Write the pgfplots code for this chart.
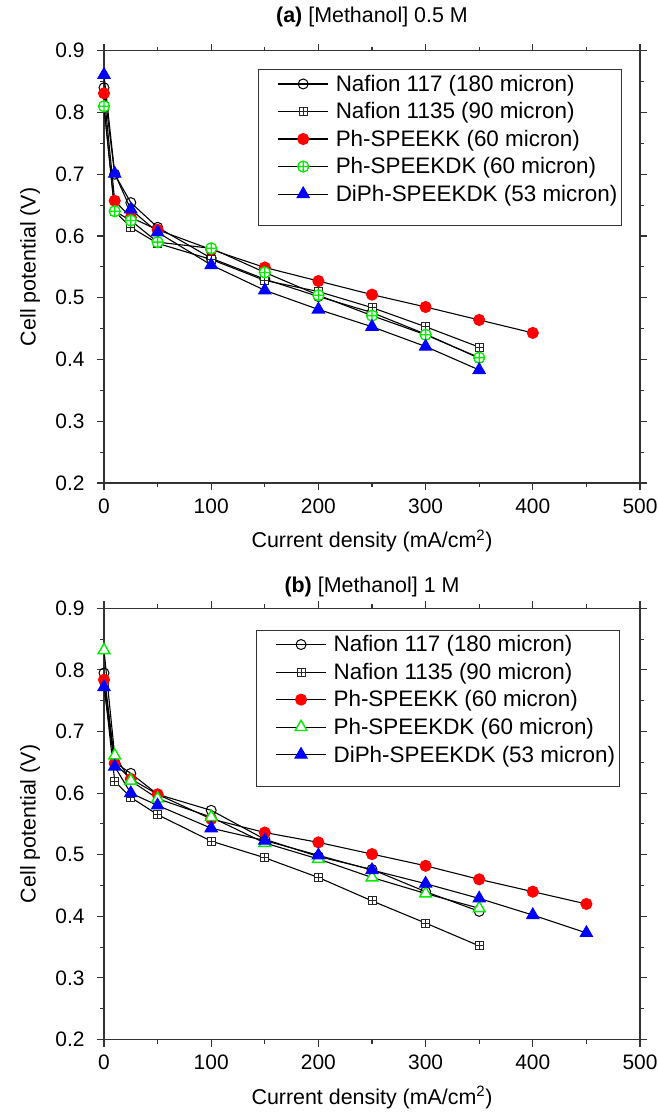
\documentclass[border=0pt]{standalone}
\usepackage{fontspec}
\setmainfont{Liberation Sans}
\usepackage{pgfplots}
\pgfplotsset{compat=1.18}
\usetikzlibrary{plotmarks}
\definecolor{mgreen}{RGB}{0,235,0}
\definecolor{mred}{RGB}{255,0,0}
\definecolor{mblue}{RGB}{0,0,255}
\pgfdeclareplotmark{boxplus}{%
  \pgfpathrectangle{\pgfpoint{-\pgfplotmarksize}{-\pgfplotmarksize}}{\pgfpoint{2\pgfplotmarksize}{2\pgfplotmarksize}}%
  \pgfusepathqfillstroke
  \pgfpathmoveto{\pgfpoint{-\pgfplotmarksize}{0pt}}\pgfpathlineto{\pgfpoint{\pgfplotmarksize}{0pt}}%
  \pgfpathmoveto{\pgfpoint{0pt}{-\pgfplotmarksize}}\pgfpathlineto{\pgfpoint{0pt}{\pgfplotmarksize}}%
  \pgfusepathqstroke}
\pgfplotsset{
  myaxis/.style={
    scale only axis, width=536bp,
    xmin=0, xmax=500, ymin=0.2, ymax=0.9,
    xtick={0,100,...,500}, ytick={0.2,0.3,...,0.9},
    minor x tick num=1, minor y tick num=1,
    tick align=outside, major tick length=7bp, minor tick length=4bp,
    axis line style={line width=1.3bp, black!80},
    every tick/.style={line width=1.1bp, black!80},
    tick label style={font=\fontsize{21}{24}\selectfont},
    xticklabel style={yshift=-5bp},
    yticklabel style={xshift=-9bp},
    /pgf/number format/assume math mode=true,
    yticklabel style={/pgf/number format/.cd, fixed, fixed zerofill, precision=1},
    label style={font=\fontsize{21.5}{25}\selectfont},
    xlabel={Current density (mA/cm\textsuperscript{2})},
    ylabel={Cell potential (V)},
    xlabel style={at={(axis description cs:0.5,0)}, anchor=center, yshift=-58bp},
    ylabel style={at={(axis description cs:-0.138,0.5)}, anchor=center},
    legend cell align=left,
    legend image code/.code={%
      \path (-17bp,0bp) (55bp,0bp);
      \draw[mark repeat=2,mark phase=2,##1] plot coordinates {(0bp,0bp) (25bp,0bp) (50bp,0bp)};},
    legend style={font=\fontsize{22.5}{26}\selectfont, draw=black!80, line width=1bp,
      inner xsep=2bp, inner ysep=3.3bp, row sep=5.8bp,
      nodes={inner xsep=2bp, inner ysep=2bp}},
  },
  ln/.style={black, line width=1.1bp},
  s117/.style={ln, mark=o, mark size=5bp, mark options={draw=black, fill=white, line width=1bp}},
  s1135/.style={ln, mark=boxplus, mark size=4bp, mark options={draw=black!85, fill=white, line width=0.9bp}},
  sred/.style={ln, mark=*, mark size=5.5bp, mark options={draw=mred, fill=mred}},
  sgreenA/.style={ln, mark=oplus*, mark size=5.5bp, mark options={draw=mgreen, fill=white, line width=1.3bp}},
  sgreenB/.style={ln, mark=triangle*, mark size=6.8bp, mark options={draw=mgreen, fill=white, line width=1.4bp}},
  sblue/.style={ln, mark=triangle*, mark size=7bp, mark options={draw=mblue, fill=mblue}},
}
\begin{document}
\begin{tikzpicture}
\path[use as bounding box] (0,0) rectangle (658bp,1116bp);
% ---------------- (a) ----------------
\begin{axis}[myaxis, at={(104bp,633bp)}, anchor=south west, height=432.3bp,
  legend style={at={(0.966,0.957)}, anchor=north east}]
\addplot[s117] coordinates {(0,0.84) (10,0.70) (25,0.654) (50,0.614) (100,0.564) (150,0.530) (200,0.502) (250,0.476) (300,0.441) (350,0.402)};
\addlegendentry{Nafion 117 (180 micron)}
\addplot[s1135] coordinates {(0,0.81) (10,0.64) (25,0.614) (50,0.588) (100,0.562) (150,0.528) (200,0.510) (250,0.484) (300,0.453) (350,0.420)};
\addlegendentry{Nafion 1135 (90 micron)}
\addplot[sred] coordinates {(0,0.831) (10,0.657) (25,0.630) (50,0.610) (100,0.578) (150,0.549) (200,0.527) (250,0.505) (300,0.485) (350,0.464) (400,0.443)};
\addlegendentry{Ph-SPEEKK (60 micron)}
\addplot[sgreenA] coordinates {(0,0.81) (10,0.640) (25,0.625) (50,0.590) (100,0.580) (150,0.541) (200,0.504) (250,0.471) (300,0.440) (350,0.403)};
\addlegendentry{Ph-SPEEKDK (60 micron)}
\addplot[sblue] coordinates {(0,0.861) (10,0.701) (25,0.643) (50,0.606) (100,0.553) (150,0.512) (200,0.481) (250,0.453) (300,0.421) (350,0.383)};
\addlegendentry{DiPh-SPEEKDK (53 micron)}
\addlegendimage{empty legend}
\addlegendentry{\rule{0pt}{6bp}}
\end{axis}
\node[font=\fontsize{21.5}{25}\selectfont] at (372bp,1099bp) {\textbf{(a)} [Methanol] 0.5 M};
% ---------------- (b) ----------------
\begin{axis}[myaxis, at={(104bp,76.5bp)}, anchor=south west, height=431.2bp,
  legend style={at={(0.962,0.950)}, anchor=north east}]
\addplot[s117] coordinates {(0,0.795) (10,0.650) (25,0.632) (50,0.598) (100,0.572) (150,0.525) (200,0.497) (250,0.476) (300,0.440) (350,0.408)};
\addlegendentry{Nafion 117 (180 micron)}
\addplot[s1135] coordinates {(0,0.780) (10,0.619) (25,0.593) (50,0.565) (100,0.522) (150,0.495) (200,0.463) (250,0.425) (300,0.389) (350,0.352)};
\addlegendentry{Nafion 1135 (90 micron)}
\addplot[sred] coordinates {(0,0.784) (10,0.648) (25,0.623) (50,0.598) (100,0.558) (150,0.536) (200,0.520) (250,0.501) (300,0.482) (350,0.460) (400,0.440) (450,0.420)};
\addlegendentry{Ph-SPEEKK (60 micron)}
\addplot[sgreenB] coordinates {(0,0.832) (10,0.661) (25,0.620) (50,0.591) (100,0.561) (150,0.519) (200,0.493) (250,0.463) (300,0.437) (350,0.413)};
\addlegendentry{Ph-SPEEKDK (60 micron)}
\addplot[sblue] coordinates {(0,0.772) (10,0.643) (25,0.600) (50,0.580) (100,0.543) (150,0.523) (200,0.499) (250,0.475) (300,0.453) (350,0.429) (400,0.402) (450,0.373)};
\addlegendentry{DiPh-SPEEKDK (53 micron)}
\addlegendimage{empty legend}
\addlegendentry{\rule{0pt}{6bp}}
\end{axis}
\node[font=\fontsize{21.5}{25}\selectfont] at (372bp,529bp) {\textbf{(b)} [Methanol] 1 M};
\end{tikzpicture}
\end{document}
